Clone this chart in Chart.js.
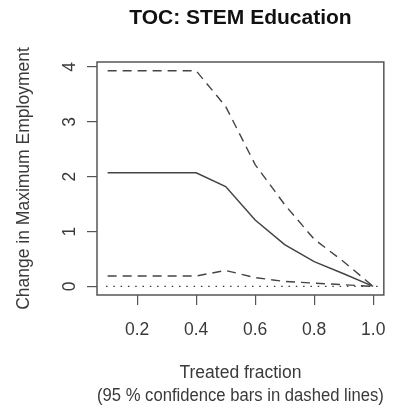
<!DOCTYPE html>
<html>
<head>
<meta charset="utf-8">
<script src="https://cdn.jsdelivr.net/npm/chart.js@4"></script>
<style>
  html, body { margin: 0; padding: 0; background: #fff; }
  #wrap { width: 401px; height: 406px; }
</style>
</head>
<body>
<div id="wrap"><canvas id="myChart" width="401" height="406"></canvas></div>
<script>
// values
const fraction = [0.1, 0.2, 0.3, 0.4, 0.5, 0.6, 0.7, 0.8, 0.9, 1.0];
const estimate = [2.07, 2.07, 2.07, 2.07, 1.82, 1.21, 0.76, 0.45, 0.23, 0];
const upperCI = [3.93, 3.93, 3.93, 3.93, 3.28, 2.22, 1.49, 0.86, 0.45, 0];
const lowerCI = [0.19, 0.19, 0.19, 0.19, 0.29, 0.16, 0.09, 0.06, 0.03, 0];
const xTicks = [0.2, 0.4, 0.6, 0.8, 1.0];
const yTicks = [0, 1, 2, 3, 4];
const zeroLine = 0;

const ink = "#3a3a3a";
const font = "'Liberation Sans', Arial, Helvetica, sans-serif";

function pts(ys) {
  return fraction.map((x, i) => ({ x: x, y: ys[i] }));
}

// box round the plot and the dotted line at zero (like R's box() / abline())
const boxPlugin = {
  id: "box",
  afterDatasetsDraw(chart) {
    const ctx = chart.ctx;
    const a = chart.chartArea;
    const y0 = chart.scales.y.getPixelForValue(zeroLine);
    ctx.save();
    ctx.strokeStyle = ink;
    ctx.lineWidth = 1.3;
    ctx.setLineDash([1.5, 5.8]);
    ctx.beginPath();
    ctx.moveTo(a.left + 9, y0);
    ctx.lineTo(a.right, y0);
    ctx.stroke();
    ctx.setLineDash([]);
    ctx.strokeStyle = "#555";
    ctx.lineWidth = 1.5;
    ctx.strokeRect(a.left, a.top, a.right - a.left, a.bottom - a.top);
    ctx.restore();
  },
};

const ctx = document.getElementById("myChart").getContext("2d");
const myChart = new Chart(ctx, {
  type: "line",
  data: {
    datasets: [
      {
        label: "estimate",
        data: pts(estimate),
        borderColor: "#444",
        borderWidth: 1.5,
      },
      {
        label: "upper",
        data: pts(upperCI),
        borderColor: "#444",
        borderWidth: 1.4,
        borderDash: [9, 6],
      },
      {
        label: "lower",
        data: pts(lowerCI),
        borderColor: "#444",
        borderWidth: 1.4,
        borderDash: [9, 6],
      },
    ],
  },
  plugins: [boxPlugin],
  options: {
    responsive: false,
    animation: false,
    layout: { padding: { top: 0, right: 6, bottom: 0, left: 0 } },
    elements: {
      point: { radius: 0 },
      line: { tension: 0, fill: false },
    },
    plugins: {
      legend: { display: false },
      tooltip: { enabled: false },
      title: {
        display: true,
        text: "TOC: STEM Education",
        fullSize: false,
        color: "#111",
        font: { family: font, size: 21, weight: "bold", lineHeight: 1.2 },
        padding: { top: 5.7, bottom: 31.1 },
      },
    },
    scales: {
      x: {
        type: "linear",
        position: "bottom",
        min: 0.064,
        max: 1.036,
        afterBuildTicks: (scale) => {
          scale.ticks = xTicks.map((v) => ({ value: v }));
        },
        afterFit: (scale) => {
          scale.height = 111;
        },
        grid: {
          drawOnChartArea: false,
          drawTicks: true,
          tickLength: 10,
          color: "#555",
          lineWidth: 1.2,
        },
        border: { display: false },
        ticks: {
          color: ink,
          padding: 15,
          maxRotation: 0,
          font: { family: font, size: 17.5 },
          callback: (v) => v.toFixed(1),
        },
        title: {
          display: true,
          text: ["Treated fraction", "(95 % confidence bars in dashed lines)"],
          color: ink,
          font: { family: font, size: 17.5, lineHeight: 1.3 },
          padding: { top: 0, bottom: -1.5 },
        },
      },
      y: {
        type: "linear",
        position: "left",
        min: -0.157,
        max: 4.09,
        afterBuildTicks: (scale) => {
          scale.ticks = yTicks.map((v) => ({ value: v }));
        },
        afterFit: (scale) => {
          scale.width = 97;
        },
        grid: {
          drawOnChartArea: false,
          drawTicks: true,
          tickLength: 10,
          color: "#555",
          lineWidth: 1.2,
        },
        border: { display: false },
        ticks: {
          color: ink,
          padding: 12,
          minRotation: 90,
          maxRotation: 90,
          crossAlign: "center",
          font: { family: font, size: 17.5 },
        },
        title: {
          display: true,
          text: "Change in Maximum Employment",
          color: ink,
          font: { family: font, size: 17.5, lineHeight: 1.2 },
          padding: { top: 14, bottom: 0 },
        },
      },
    },
  },
});
</script>
</body>
</html>
